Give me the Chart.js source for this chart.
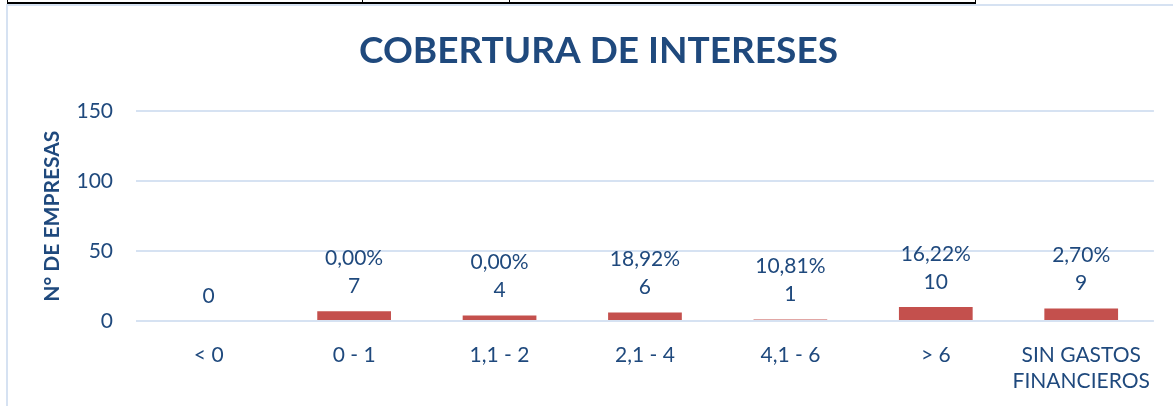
<!DOCTYPE html>
<html>
<head>
<meta charset="utf-8">
<script src="https://cdn.jsdelivr.net/npm/chart.js@4.4.1/dist/chart.umd.min.js"></script>
<style>
  html, body { margin: 0; padding: 0; background: #ffffff; overflow: hidden; }
  #wrap { position: relative; width: 1173px; height: 406px; }
  .ln { position: absolute; }
  canvas { position: absolute; left: 0; top: 0; }
</style>
</head>
<body>
<div id="wrap">
  <div class="ln" style="left:7px; top:2px; width:969px; height:2px; background:#000;"></div>
  <div class="ln" style="left:7px; top:0px; width:1px; height:4px; background:#000;"></div>
  <div class="ln" style="left:362px; top:0px; width:1px; height:4px; background:#000;"></div>
  <div class="ln" style="left:509px; top:0px; width:1px; height:4px; background:#000;"></div>
  <div class="ln" style="left:975px; top:0px; width:1px; height:4px; background:#000;"></div>
  <div class="ln" style="left:6px; top:4px; width:1167px; height:2px; background:#d6e2f2;"></div>
  <div class="ln" style="left:6px; top:4px; width:2px; height:402px; background:#d6e2f2;"></div>
  <canvas id="c" width="1173" height="406"></canvas>
</div>
<script>
const categories = ['< 0', '0 - 1', '1,1 - 2', '2,1 - 4', '4,1 - 6', '> 6', ['SIN GASTOS', 'FINANCIEROS']];
const empresas = [0, 7, 4, 6, 1, 10, 9];
const porcentajes = ['', '0,00%', '0,00%', '18,92%', '10,81%', '16,22%', '2,70%'];
const yTicks = [0, 50, 100, 150];

const TEXT = '#1F497D';
const FONT = 'Lato';

const labelPlugin = {
  id: 'barLabels',
  afterDatasetsDraw(chart) {
    const ctx = chart.ctx;
    const meta = chart.getDatasetMeta(0);
    ctx.save();
    ctx.fillStyle = TEXT;
    ctx.font = '21px ' + FONT;
    ctx.textAlign = 'center';
    ctx.textBaseline = 'middle';
    meta.data.forEach((bar, i) => {
      ctx.fillText(String(empresas[i]), bar.x, bar.y - 25);
      if (porcentajes[i]) ctx.fillText(porcentajes[i], bar.x, bar.y - 53);
    });
    ctx.restore();
  }
};

new Chart(document.getElementById('c'), {
  type: 'bar',
  data: {
    labels: categories,
    datasets: [{
      data: empresas,
      backgroundColor: '#C4504D',
      borderWidth: 0,
      barPercentage: 1,
      categoryPercentage: 0.507
    }]
  },
  options: {
    responsive: false,
    animation: false,
    devicePixelRatio: 1,
    layout: { padding: { left: 40, right: 16, top: 0, bottom: 10 } },
    plugins: {
      legend: { display: false },
      tooltip: { enabled: false },
      title: {
        display: true,
        text: 'COBERTURA DE INTERESES',
        color: TEXT,
        font: { family: FONT, size: 37, weight: 'bold' },
        padding: { top: 29, bottom: 38 }
      }
    },
    scales: {
      x: {
        grid: { display: false, drawTicks: false },
        border: { display: false },
        ticks: {
          color: TEXT,
          font: { family: FONT, size: 21 },
          padding: 22,
          maxRotation: 0,
          autoSkip: false
        },
        afterFit(scale) { scale.height = 406 - 321 - 10; }
      },
      y: {
        min: 0,
        max: 150,
        afterBuildTicks(scale) { scale.ticks = yTicks.map(v => ({ value: v })); },
        grid: { color: '#D6E2F2', lineWidth: 2, drawTicks: false },
        border: { display: false },
        ticks: {
          color: TEXT,
          font: { family: FONT, size: 21 },
          padding: 23
        },
        title: {
          display: true,
          text: 'N° DE EMPRESAS',
          color: TEXT,
          font: { family: FONT, size: 21, weight: 'bold' },
          padding: { top: 0, bottom: 8 }
        },
        afterFit(scale) { scale.width = 136 - 40; }
      }
    }
  },
  plugins: [labelPlugin]
});
</script>
</body>
</html>
